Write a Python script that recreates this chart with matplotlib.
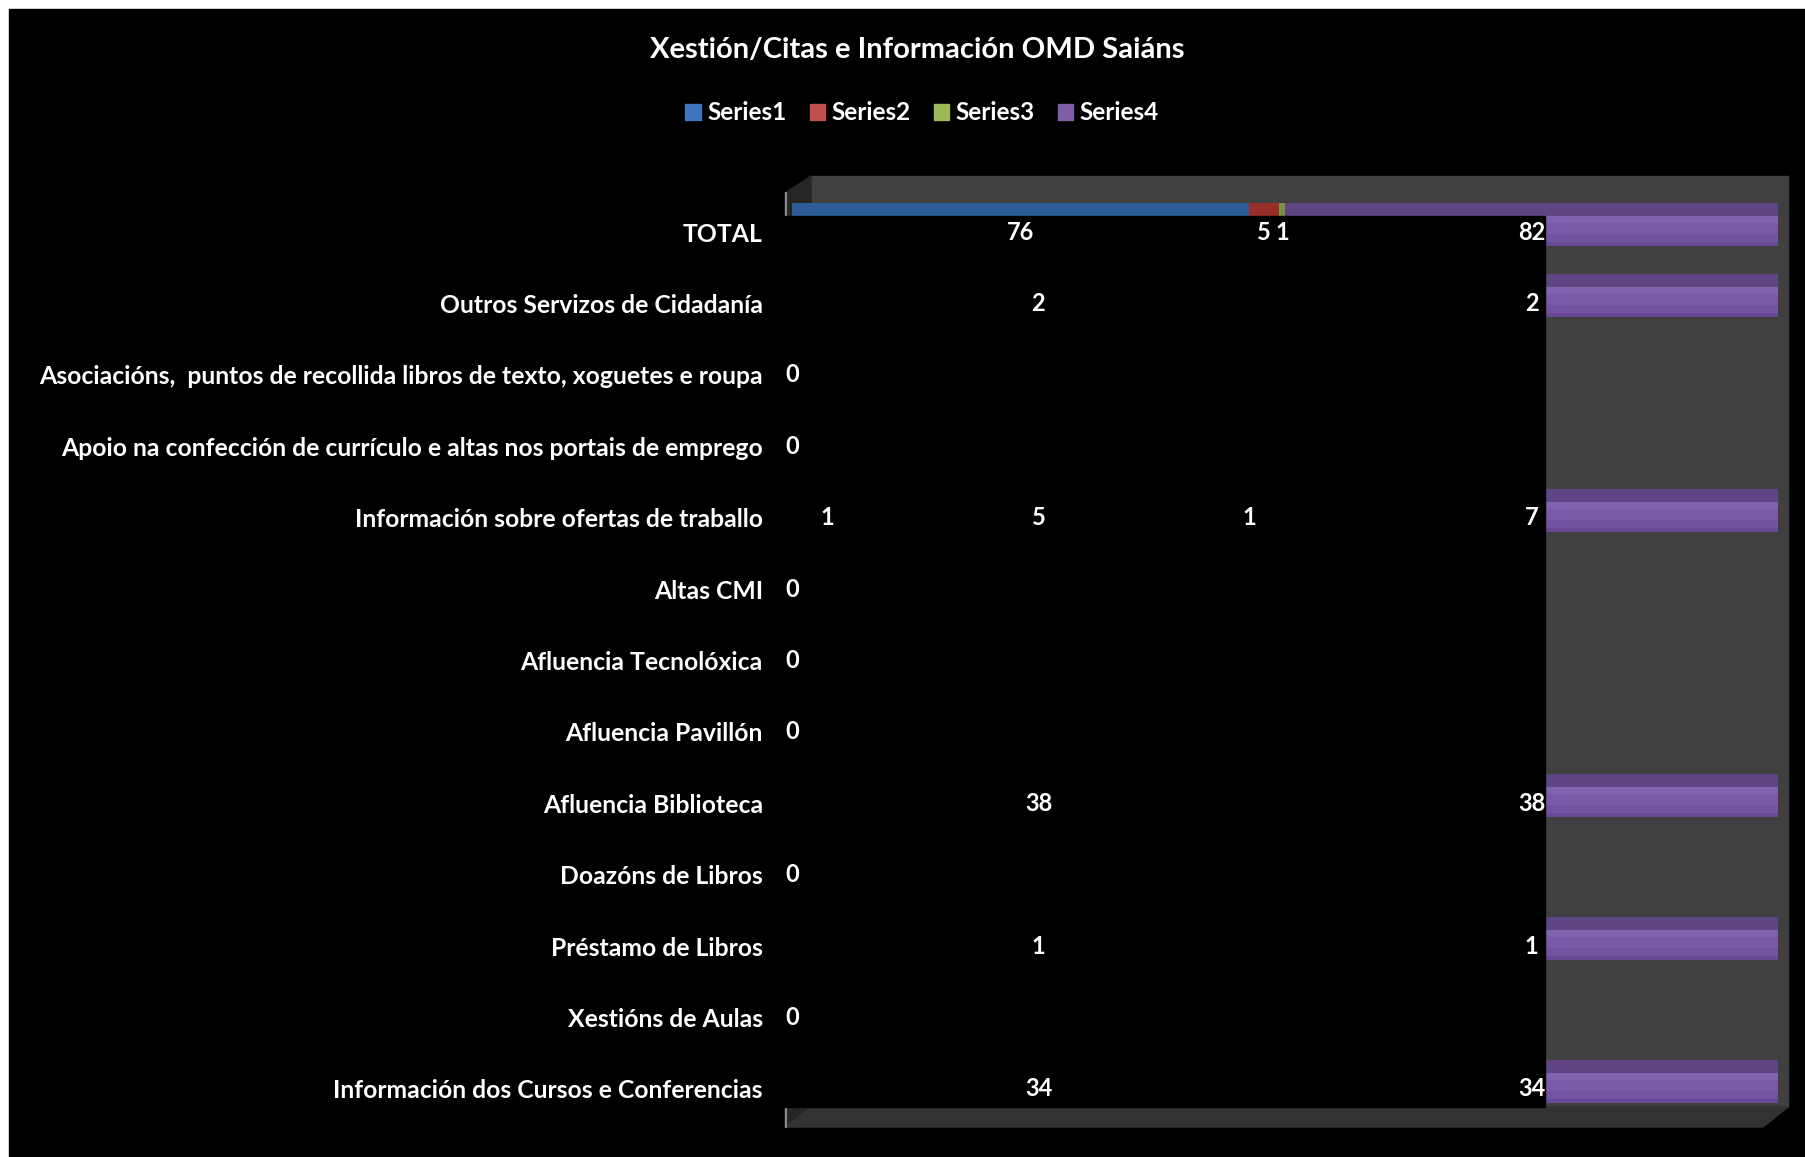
import matplotlib
matplotlib.use("Agg")
import matplotlib.pyplot as plt
from matplotlib.patches import Rectangle, Polygon
import numpy as np

# categories, top to bottom as they appear in the chart
CATEGORIES = [
    "TOTAL",
    "Outros Servizos de Cidadanía",
    "Asociacións,  puntos de recollida libros de texto, xoguetes e roupa",
    "Apoio na confección de currículo e altas nos portais de emprego",
    "Información sobre ofertas de traballo",
    "Altas CMI",
    "Afluencia Tecnolóxica",
    "Afluencia Pavillón",
    "Afluencia Biblioteca",
    "Doazóns de Libros",
    "Préstamo de Libros",
    "Xestións de Aulas",
    "Información dos Cursos e Conferencias",
]
nan = np.nan
SERIES1 = [76, 2, nan, nan, 1, nan, nan, nan, 38, nan, 1, nan, 34]
SERIES2 = [5, nan, nan, nan, 5, nan, nan, nan, nan, nan, nan, nan, nan]
SERIES3 = [1, nan, nan, nan, 1, nan, nan, nan, nan, nan, nan, nan, nan]
SERIES4 = [82, 2, 0, 0, 7, 0, 0, 0, 38, 0, 1, 0, 34]
SERIES_NAMES = ["Series1", "Series2", "Series3", "Series4"]

# shades per series: top face, then front face from top to bottom
SHADES = [
    ("#2d5d97", "#4789d8", "#3d83d4", "#397cca", "#3270b8"),
    ("#982e2b", "#d24c46", "#ca423d", "#bf3c37", "#ad3531"),
    ("#789343", "#a5c663", "#9bbb59", "#92b252", "#85a24a"),
    ("#5f4583", "#8062ae", "#7a5aa7", "#72539f", "#684993"),
]
LEGEND_COLORS = ["#3f75bd", "#c0504d", "#9bbb59", "#7d5fa5"]

W, H = 1805, 1157
FONT = "Lato"
ROW = 71.4  # pixels between rows

# vertical pieces of each bar, in pixels from the label line: (top, bottom)
PIECES = [(-29, -16), (-16, -9), (-9, 2), (2, 10), (10, 14)]


def px(v):
    return v / ROW


fig = plt.figure(figsize=(W / 100, H / 100), dpi=100, facecolor="white")

# background / 3D frame in pixel coordinates
bg = fig.add_axes([0, 0, 1, 1], zorder=0)
bg.set_xlim(0, W)
bg.set_ylim(H, 0)
bg.axis("off")
bg.add_patch(Rectangle((9, 9), W, H, color="black"))
bg.add_patch(Rectangle((811, 176), 1788 - 811, 1107 - 176, color="#404040"))
bg.add_patch(Polygon([(785, 193), (811, 176), (811, 1107), (785, 1127)],
                     closed=True, color="#262626"))
bg.add_patch(Polygon([(785, 1127), (811, 1107), (1788, 1107), (1763, 1127)],
                     closed=True, color="#333333"))
bg.plot([786, 786], [193, 1127], color="#8a8a8a", lw=1.5)

# bar axes: x is the 100 % scale, y is the category index
ax = fig.add_axes([792 / W, 1 - 1107 / H, (1778 - 792) / W, (1107 - 176) / H],
                  zorder=1)
ax.set_facecolor("none")
ax.set_xlim(0, 1)
ax.set_ylim((1107 - 232) / ROW, (176 - 232) / ROW)
for s in ax.spines.values():
    s.set_visible(False)
ax.set_xticks([])

data = np.array([SERIES1, SERIES2, SERIES3, SERIES4], dtype=float)
vals = np.nan_to_num(data)
totals = vals.sum(axis=0)
frac = np.divide(vals, totals, out=np.zeros_like(vals), where=totals > 0)
left = np.vstack([np.zeros(len(CATEGORIES)), np.cumsum(frac, axis=0)[:-1]])
y = np.arange(len(CATEGORIES))

for i, shades in enumerate(SHADES):
    for (t, b), c in zip(PIECES, shades):
        ax.barh(y + px((t + b) / 2), frac[i], left=left[i], height=px(b - t),
                color=c, linewidth=0, zorder=2)

# black box that covers the left part of the plot
ax.add_patch(Rectangle((770, 216), 1545 - 770, 1107 - 216, color="black",
                       transform=bg.transData, clip_on=False, zorder=3))

# data labels at segment centres
for i in range(4):
    for j in range(len(CATEGORIES)):
        if np.isnan(data[i, j]):
            continue
        ax.text(left[i, j] + frac[i, j] / 2, j, f"{data[i, j]:.0f}",
                color="white", fontsize=17, fontweight="bold", family=FONT,
                ha="center", va="center", zorder=4, clip_on=False)

ax.set_yticks(y)
ax.set_yticklabels(CATEGORIES, color="white", fontsize=17.8,
                   fontweight="bold", family=FONT)
ax.tick_params(axis="y", length=0, pad=21)

fig.text(917 / W, 1 - 50 / H, "Xestión/Citas e Información OMD Saiáns",
         color="white", fontsize=21, fontweight="bold", family=FONT,
         ha="center", va="center")

handles = [Rectangle((0, 0), 1, 1, color=c) for c in LEGEND_COLORS]
leg = fig.legend(handles, SERIES_NAMES, loc="center",
                 bbox_to_anchor=(922 / W, 1 - 113 / H), ncol=4, frameon=False,
                 handlelength=0.65, handleheight=0.65, handletextpad=0.25,
                 columnspacing=0.95,
                 prop={"family": FONT, "weight": "bold", "size": 17.5})
for t in leg.get_texts():
    t.set_color("white")

fig.savefig("out.png", dpi=100, facecolor=fig.get_facecolor())
